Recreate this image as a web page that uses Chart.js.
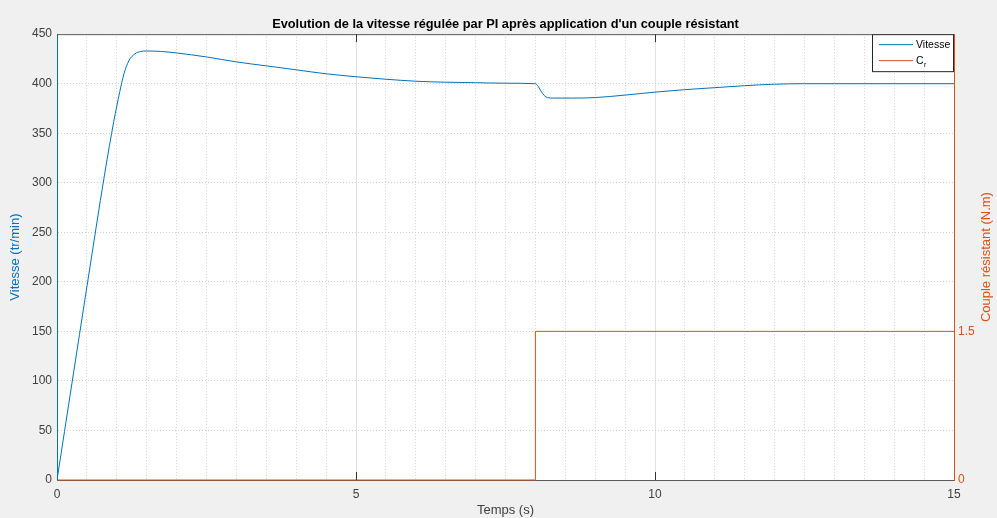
<!DOCTYPE html>
<html>
<head>
    <style>
        body { margin: 0; background: #f0f0f0; }
        canvas { display: block; }
    </style>
    <script src="https://cdn.jsdelivr.net/npm/chart.js"></script>
</head>
<body>
    <canvas id="vitesseChart" width="997" height="518"></canvas>

    <script>
        // vitesse régulée (tr/min)
        const temps = [0, 0.5, 0.8, 0.95, 1.05, 1.12, 1.2, 1.3, 1.4, 1.5, 1.75, 2.0, 2.5, 3.0, 3.5, 4.0, 4.5,
                       5.0, 5.5, 6.0, 6.5, 7.0, 7.5, 8.0, 8.05, 8.1, 8.15, 8.2, 8.3, 8.6, 9.0, 9.5, 10.0, 10.5,
                       11.0, 11.5, 12.0, 12.5, 13.0, 14.0, 15.0];
        const vitesse = [0, 195, 310, 362, 392, 410, 423, 430, 432.5, 433, 432.5, 431, 427, 422, 418, 414, 410,
                         407, 404.5, 402.5, 401.5, 401, 400.5, 400, 397, 392, 388, 386, 385.5, 385.5, 386, 388.5, 391.5, 394,
                         396, 398, 399.5, 400, 400, 400, 400];

        // couple résistant (N.m) appliqué à t = 8 s
        const tempsCouple = [0, 8, 8, 15];
        const couple = [0, 0, 1.5, 1.5];

        const ticksVitesse = { min: 0, max: 450, pas: 50 };
        const ticksTemps = { min: 0, max: 15, pas: 0.5 };
        const ticksCouple = [0, 1.5];

        const bleu = '#0072BD';
        const orange = '#D95319';
        const police = '"Liberation Sans", Arial, sans-serif';

        const estMajeur = (v) => Math.abs(v % 5) < 1e-6;

        const fondMatlab = {
            id: 'fondMatlab',
            beforeDraw(chart) {
                const { ctx, chartArea: a } = chart;
                ctx.save();
                ctx.fillStyle = '#f0f0f0';
                ctx.fillRect(0, 0, chart.width, chart.height);
                ctx.fillStyle = '#ffffff';
                ctx.fillRect(a.left, a.top, a.right - a.left, a.bottom - a.top);
                ctx.restore();
            },
            afterDraw(chart) {
                const { ctx, chartArea: a, scales } = chart;
                ctx.save();
                // cadre du haut
                ctx.strokeStyle = '#5a5a5a';
                ctx.lineWidth = 1;
                ctx.beginPath();
                ctx.moveTo(a.left, a.top + 0.5);
                ctx.lineTo(a.right, a.top + 0.5);
                ctx.stroke();
                // graduations vers l'intérieur
                ctx.strokeStyle = '#333';
                [5, 10].forEach(v => {
                    const x = Math.round(scales.x.getPixelForValue(v)) + 0.5;
                    ctx.beginPath();
                    ctx.moveTo(x, a.bottom); ctx.lineTo(x, a.bottom - 8);
                    ctx.moveTo(x, a.top); ctx.lineTo(x, a.top + 8);
                    ctx.stroke();
                });
                // titre de l'axe droit (lu de bas en haut comme sous Matlab)
                ctx.save();
                ctx.translate(986, (a.top + a.bottom) / 2);
                ctx.rotate(-Math.PI / 2);
                ctx.fillStyle = orange;
                ctx.font = '13px ' + police;
                ctx.textAlign = 'center';
                ctx.textBaseline = 'middle';
                ctx.fillText('Couple résistant (N.m)', 0, 0);
                ctx.restore();
                // légende
                const lx = a.right - 82, ly = a.top;
                ctx.fillStyle = '#ffffff';
                ctx.fillRect(lx, ly, 82, 38);
                ctx.strokeStyle = '#262626';
                ctx.strokeRect(lx + 0.5, ly + 0.5, 81, 37);
                ctx.lineWidth = 1;
                ctx.strokeStyle = bleu;
                ctx.beginPath(); ctx.moveTo(lx + 7, ly + 10.5); ctx.lineTo(lx + 41, ly + 10.5); ctx.stroke();
                ctx.strokeStyle = orange;
                ctx.beginPath(); ctx.moveTo(lx + 7, ly + 26.5); ctx.lineTo(lx + 41, ly + 26.5); ctx.stroke();
                ctx.fillStyle = '#000';
                ctx.font = '10.5px ' + police;
                ctx.textAlign = 'left';
                ctx.textBaseline = 'middle';
                ctx.fillText('Vitesse', lx + 44, ly + 11);
                ctx.fillText('C', lx + 44, ly + 27);
                ctx.font = '7px ' + police;
                ctx.fillText('r', lx + 52, ly + 31);
                ctx.restore();
            }
        };

        const ctx = document.getElementById('vitesseChart').getContext('2d');
        new Chart(ctx, {
            type: 'line',
            data: {
                datasets: [{
                    label: 'Vitesse',
                    data: temps.map((t, i) => ({ x: t, y: vitesse[i] })),
                    borderColor: bleu,
                    borderWidth: 1,
                    pointRadius: 0,
                    cubicInterpolationMode: 'monotone',
                    yAxisID: 'y'
                }, {
                    label: 'Cr',
                    data: tempsCouple.map((t, i) => ({ x: t, y: couple[i] })),
                    borderColor: orange,
                    borderWidth: 1,
                    pointRadius: 0,
                    tension: 0,
                    clip: 2,
                    yAxisID: 'y1'
                }]
            },
            options: {
                responsive: false,
                animation: false,
                layout: { padding: 0 },
                plugins: {
                    legend: { display: false },
                    tooltip: { enabled: false },
                    title: {
                        display: true,
                        fullSize: false,
                        text: "Evolution de la vitesse régulée par PI après application d'un couple résistant",
                        color: '#000',
                        font: { family: police, size: 12.8, weight: 'bold' },
                        padding: { top: 16.6, bottom: 2.2 }
                    }
                },
                scales: {
                    x: {
                        type: 'linear',
                        min: ticksTemps.min,
                        max: ticksTemps.max,
                        afterFit: s => { s.height = 38; },
                        ticks: {
                            stepSize: ticksTemps.pas,
                            autoSkip: false,
                            maxRotation: 0,
                            padding: 7,
                            color: '#404040',
                            font: { family: police, size: 12 },
                            callback: v => estMajeur(v) ? v : ''
                        },
                        grid: {
                            drawTicks: false,
                            color: c => c.tick && estMajeur(c.tick.value) ? '#e2e2e2' : '#d2d2d2'
                        },
                        border: {
                            color: '#5a5a5a',
                            dash: c => c.tick && !estMajeur(c.tick.value) ? [1, 2] : []
                        },
                        title: {
                            display: true,
                            text: 'Temps (s)',
                            color: '#404040',
                            font: { family: police, size: 13 },
                            padding: { top: 0, bottom: 0 }
                        }
                    },
                    y: {
                        position: 'left',
                        min: ticksVitesse.min,
                        max: ticksVitesse.max,
                        afterFit: s => { s.width = 57; },
                        ticks: {
                            stepSize: ticksVitesse.pas,
                            padding: 5,
                            color: '#404040',
                            font: { family: police, size: 12 }
                        },
                        grid: { drawTicks: false, color: '#d2d2d2' },
                        border: { color: bleu, dash: c => c.tick ? [1, 2] : [] },
                        title: {
                            display: true,
                            text: 'Vitesse (tr/min)',
                            color: bleu,
                            font: { family: police, size: 13 },
                            padding: { top: 8, bottom: 0 }
                        }
                    },
                    y1: {
                        position: 'right',
                        min: 0,
                        max: 4.5,
                        afterFit: s => { s.width = 43; },
                        afterBuildTicks: s => { s.ticks = ticksCouple.map(v => ({ value: v })); },
                        ticks: {
                            padding: 4,
                            color: orange,
                            font: { family: police, size: 12 }
                        },
                        grid: { display: false, drawTicks: false },
                        border: { color: orange }
                    }
                }
            },
            plugins: [fondMatlab]
        });
    </script>
</body>
</html>
